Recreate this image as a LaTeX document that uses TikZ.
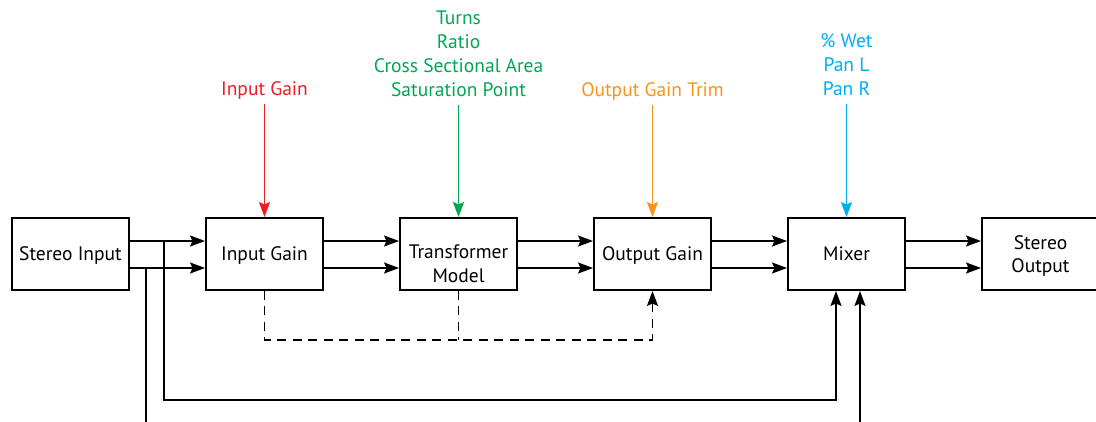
\documentclass[tikz,border=0pt]{standalone}
\usepackage{fontspec}
\setmainfont{PT Sans}
\usetikzlibrary{arrows.meta,calc}
\definecolor{ctlred}{RGB}{237,28,36}
\definecolor{ctlgreen}{RGB}{0,166,81}
\definecolor{ctlorange}{RGB}{247,148,29}
\definecolor{ctlblue}{RGB}{0,174,239}
\begin{document}
\begin{tikzpicture}[x=1pt,y=-1pt,line width=1.9pt,
  >={Stealth[length=15pt,width=11pt,inset=2.5pt]},
  block/.style={draw,minimum width=117pt,minimum height=72pt,inner sep=2pt,
    align=center,text depth=0pt,font=\fontsize{19.5}{23.5}\selectfont},
  ctrl/.style={anchor=south,align=center,text depth=0pt,inner xsep=0pt,
    inner ysep=8pt,font=\fontsize{19.5}{24}\selectfont},
  sig/.style={->},
  link/.style={dash pattern=on 9pt off 6.5pt}]
\useasboundingbox (0,0) rectangle (1096,421);

% processing chain
\node[block] (in)  at (70.5,254)   {Stereo Input};
\node[block] (ig)  at (264.5,254)  {Input Gain};
\node[block] (tm)  at (458.5,254)  {\rule{0pt}{33pt}Transformer\\Model};
\node[block] (og)  at (652.5,254)  {Output Gain};
\node[block] (mx)  at (846.5,254)  {Mixer};
\node[block] (out) at (1040.5,254) {Stereo\\Output};

% left/right signal pairs between stages
\foreach \a/\b in {in/ig,ig/tm,tm/og,og/mx,mx/out}{
  \draw[sig] ([yshift=13pt]\a.east) -- ([yshift=13pt]\b.west);
  \draw[sig] ([yshift=-14pt]\a.east) -- ([yshift=-14pt]\b.west);
}

% dry signal taps feeding the mixer
\coordinate (tapA) at (164,241);
\coordinate (tapB) at (146,268);
\coordinate (busY) at (0,400);
\coordinate (offY) at (0,430);
\coordinate (mxA) at ([xshift=-10.5pt]mx.south);
\coordinate (mxB) at ([xshift=13.5pt]mx.south);
\draw[sig] (tapA) |- (mxA |- busY) -- (mxA);
\draw (tapB) -- (tapB |- offY);
\draw[sig] (mxB |- offY) -- (mxB);

% gain compensation link
\coordinate (dashY) at (0,340);
\draw[link,->] (ig.south) |- (dashY -| og.south) -- (og.south);
\draw[link] (tm.south) -- (tm.south |- dashY);

% control parameters
\node[ctrl,text=ctlred] (pig) at (264.5,104) {Input Gain};
\node[ctrl,text=ctlgreen] (ptm) at (458.5,105)
  {Turns\\Ratio\\Cross Sectional Area\\Saturation Point};
\node[ctrl,text=ctlorange] (pog) at (652.5,105) {Output Gain Trim};
\node[ctrl,text=ctlblue] (pmx) at (846.5,104) {\% Wet\\Pan L\\Pan R};
\draw[->,ctlred] (pig) -- (ig);
\draw[->,ctlgreen] (ptm) -- (tm);
\draw[->,ctlorange] (pog) -- (og);
\draw[->,ctlblue] (pmx) -- (mx);
\end{tikzpicture}
\end{document}
